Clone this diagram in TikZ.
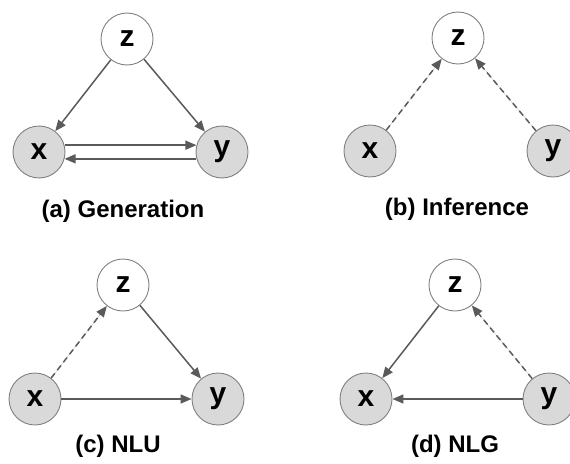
\documentclass[tikz,border=0pt]{standalone}
\usepackage{fontspec}
\setmainfont{Liberation Sans}
\usetikzlibrary{arrows.meta}
\definecolor{edgegray}{HTML}{5A5A5A}
\definecolor{rimgray}{HTML}{808080}
\definecolor{obsfill}{HTML}{D9D9D9}
\begin{document}
\begin{tikzpicture}[x=1pt,y=-1pt,
  var/.style={circle,draw=rimgray,line width=0.9pt,minimum size=52pt,inner sep=0pt,
    font=\fontsize{30}{32}\selectfont\bfseries},
  latent/.style={var,fill=white},
  observed/.style={var,fill=obsfill},
  caption/.style={font=\fontsize{24}{28}\selectfont\bfseries},
  arr/.style={draw=edgegray,line width=1.5pt,
    -{Triangle[length=11pt,width=9pt]},fill=edgegray},
  infer/.style={arr,dash pattern=on 6pt off 4pt}]
\useasboundingbox (0,0) rectangle (570,463);

% (a) generation
\node[latent]   (az) at (127,39)  {z};
\node[observed] (ax) at (39,152)  {x};
\node[observed] (ay) at (222,152) {y};
\node[caption]  (acap) at (123,211) {(a) Generation};
\draw[arr] (az) -- (ax);
\draw[arr] (az) -- (ay);
\draw[arr] (ax.15) -- (ay.165);
\draw[arr] (ay.-165) -- (ax.-15);

% (b) inference
\node[latent]   (bz) at (458,38)  {z};
\node[observed] (bx) at (370,151) {x};
\node[observed] (by) at (553,151) {y};
\node[caption]  (bcap) at (457,209) {(b) Inference};
\draw[infer] (bx) -- (bz);
\draw[infer] (by) -- (bz);

% (c) NLU
\node[latent]   (cz) at (123,285) {z};
\node[observed] (cx) at (35,399)  {x};
\node[observed] (cy) at (218,399) {y};
\node[caption]  (ccap) at (118,446) {(c) NLU};
\draw[infer] (cx) -- (cz);
\draw[arr] (cz) -- (cy);
\draw[arr] (cx) -- (cy);

% (d) NLG
\node[latent]   (dz) at (455,285) {z};
\node[observed] (dx) at (366,399) {x};
\node[observed] (dy) at (549,399) {y};
\node[caption]  (dcap) at (455,446) {(d) NLG};
\draw[infer] (dy) -- (dz);
\draw[arr] (dz) -- (dx);
\draw[arr] (dy) -- (dx);
\end{tikzpicture}
\end{document}
